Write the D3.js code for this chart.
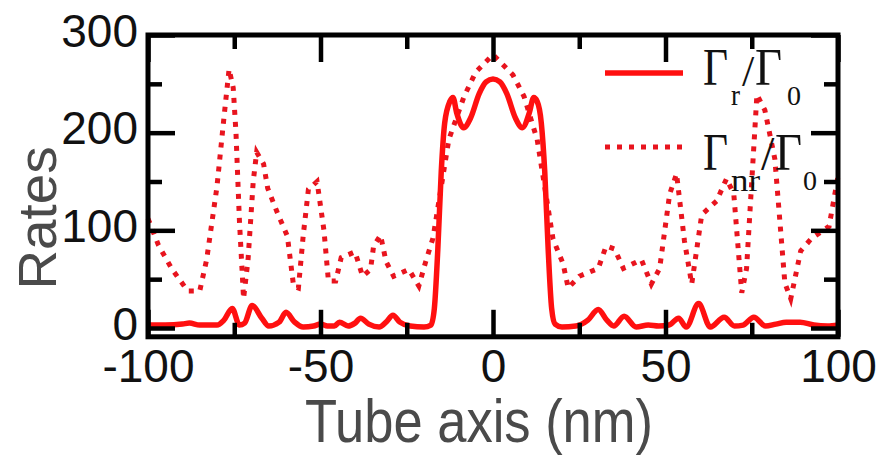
<!DOCTYPE html>
<html>
<head>
<meta charset="utf-8">
<script src="https://cdn.jsdelivr.net/npm/d3@7"></script>
<style>
  html, body { margin: 0; padding: 0; background: #fff; }
  svg { display: block; }
</style>
</head>
<body>
<svg id="chart" width="882" height="456"></svg>
<script>
// Tick positions along the tube axis (nm) and the rate axis
const xTicksMajor = [-100, -50, 0, 50, 100];
const xTicksMinor = [-75, -25, 25, 75];
const yTicksMajor = [0, 100, 200, 300];
const yTicksMinor = [50, 150, 250];

// Radiative rate Γr/Γ0 along the tube axis
const radPos = [-100, -95, -90, -88, -85, -80, -78, -75.6, -73.5, -72, -69.8, -67, -65, -62, -60, -57.5, -55,
  -52, -50, -48, -46, -44.5, -42, -40, -38.4, -36, -33, -31, -29, -27, -24, -20, -18, -17, -16, -15, -14,
  -12.5, -11.6, -10.5, -8.5, -6.5, -4, -2, 0, 2, 4, 6.5, 8.5, 10.5, 11.8, 12.8, 14, 15, 16, 17, 18, 20, 24,
  27.5, 30.5, 33, 35, 38, 41.5, 45, 48, 51, 53.8, 56, 59.6, 63, 67, 70, 72.5, 75.6, 79, 82, 85, 89, 93, 97, 100];
const radRate = [3, 3, 4, 5, 3, 3, 8, 20, 3, 5, 23, 10, 2, 6, 16, 6, 1,
  2, 4, 2, 2, 6, 2, 5, 10, 4, 1, 6, 13, 6, 2, 1, 3, 20, 80, 160, 210,
  232, 236, 220, 205, 215, 240, 252, 255, 252, 240, 215, 205, 220, 236, 232, 210, 160, 80, 20, 4, 1, 2,
  8, 19, 8, 2, 12, 1, 3, 2, 3, 10, 1, 25, 1, 11, 2, 3, 11, 2, 4, 6, 6, 3, 2, 3];

// Non-radiative rate Γnr/Γ0 along the tube axis
const nonradPos = [-100, -97, -93, -88.5, -85, -83, -80, -78, -76.5, -75.3, -74.5, -73.5, -72.3, -71, -69.5,
  -68.5, -66.5, -65.3, -62.5, -59.6, -57.8, -56.4, -55, -53.5, -51, -49, -47.7, -45.6, -44, -40, -37.8, -35.5,
  -34.6, -32.6, -31, -28.8, -24.4, -21.5, -19.5, -17.4, -12.8, -8.4, -5, 0, 5.8, 9, 12.8, 17.4, 20.3, 21.8,
  25, 30.5, 32.8, 35.2, 37.8, 43, 45.9, 48.3, 51.2, 53.2, 55.5, 57.6, 60.5, 64.8, 67.7, 69.8, 72.1, 73.5,
  76.5, 78.8, 81.7, 84.6, 86.3, 89.2, 92.4, 97.4, 100];
const nonradRate = [112, 85, 60, 38, 38, 70, 145, 215, 265, 246, 200, 110, 30, 70, 150,
  180, 168, 143, 118, 94, 43, 41, 95, 142, 150, 100, 48, 48, 72, 78, 53, 60,
  84, 95, 68, 53, 60, 43, 68, 92, 193, 237, 262, 280, 259, 237, 193, 91, 66, 41,
  53, 61, 84, 81, 61, 70, 45, 61, 137, 158, 89, 45, 116, 130, 153, 137, 36, 61,
  239, 223, 173, 46, 30, 79, 92, 104, 155];

const yFloor = -9;   // frame bottom sits a little below zero

const svg = d3.select("#chart");
const x = d3.scaleLinear().domain([-100, 100]).range([148, 838]);
const y = d3.scaleLinear().domain([0, 300]).range([328, 35]);

const sans = "'Liberation Sans', Arial, sans-serif";
const serif = "'Liberation Serif', 'Times New Roman', serif";
const red = "#ff1010";

// curves
const radLine = d3.line().x(d => x(d[0])).y(d => y(d[1])).curve(d3.curveMonotoneX);
const nonradLine = d3.line().x(d => x(d[0])).y(d => y(d[1])).curve(d3.curveLinear);

svg.append("path")
  .datum(nonradPos.map((p, i) => [p, nonradRate[i]]))
  .attr("d", nonradLine)
  .attr("fill", "none")
  .attr("stroke", "#e8141e")
  .attr("stroke-width", 5)
  .attr("stroke-dasharray", "5,7");

svg.append("path")
  .datum(radPos.map((p, i) => [p, radRate[i]]))
  .attr("d", radLine)
  .attr("fill", "none")
  .attr("stroke", red)
  .attr("stroke-width", 5.5)
  .attr("stroke-linejoin", "round");

// frame
svg.append("rect")
  .attr("x", x(-100)).attr("y", y(300))
  .attr("width", x(100) - x(-100)).attr("height", y(yFloor) - y(300))
  .attr("fill", "none").attr("stroke", "#000").attr("stroke-width", 5);

function tidy(g) {
  g.select(".domain").remove();
  g.selectAll(".tick line").attr("stroke", "#000").attr("stroke-width", 4.5);
  g.selectAll(".tick text")
    .attr("font-family", sans).attr("font-size", 46).attr("fill", "#111");
}
const fmt = d => String(d);

// bottom
svg.append("g").attr("transform", `translate(0,${y(yFloor)})`)
  .call(d3.axisBottom(x).tickValues(xTicksMajor).tickSize(-27).tickPadding(0).tickFormat(fmt))
  .call(tidy)
  .call(g => g.selectAll(".tick text").attr("dy", null).attr("y", 45));
svg.append("g").attr("transform", `translate(0,${y(yFloor)})`)
  .call(d3.axisBottom(x).tickValues(xTicksMinor).tickSize(-14).tickFormat(""))
  .call(tidy);
// top
svg.append("g").attr("transform", `translate(0,${y(300)})`)
  .call(d3.axisTop(x).tickValues(xTicksMajor).tickSize(-27).tickFormat(""))
  .call(tidy);
svg.append("g").attr("transform", `translate(0,${y(300)})`)
  .call(d3.axisTop(x).tickValues(xTicksMinor).tickSize(-14).tickFormat(""))
  .call(tidy);
// left
svg.append("g").attr("transform", `translate(${x(-100)},0)`)
  .call(d3.axisLeft(y).tickValues(yTicksMajor).tickSize(-27).tickPadding(10).tickFormat(fmt))
  .call(tidy)
  .call(g => g.selectAll(".tick text").attr("dy", "0.24em"));
svg.append("g").attr("transform", `translate(${x(-100)},0)`)
  .call(d3.axisLeft(y).tickValues(yTicksMinor).tickSize(-14).tickFormat(""))
  .call(tidy);
// right
svg.append("g").attr("transform", `translate(${x(100)},0)`)
  .call(d3.axisRight(y).tickValues(yTicksMajor).tickSize(-27).tickFormat(""))
  .call(tidy);
svg.append("g").attr("transform", `translate(${x(100)},0)`)
  .call(d3.axisRight(y).tickValues(yTicksMinor).tickSize(-14).tickFormat(""))
  .call(tidy);

// axis titles
svg.append("text")
  .attr("x", 479).attr("y", 442)
  .attr("text-anchor", "middle")
  .attr("font-family", sans).attr("font-size", 61).attr("fill", "#4a4a4a")
  .attr("textLength", 348).attr("lengthAdjust", "spacingAndGlyphs")
  .text("Tube axis (nm)");

svg.append("text")
  .attr("transform", "translate(56,218) rotate(-90)")
  .attr("text-anchor", "middle")
  .attr("font-family", sans).attr("font-size", 53).attr("fill", "#4a4a4a")
  .attr("textLength", 143).attr("lengthAdjust", "spacingAndGlyphs")
  .text("Rates");

// legend
const legend = svg.append("g");
legend.append("line")
  .attr("x1", 605).attr("x2", 683).attr("y1", 73).attr("y2", 73)
  .attr("stroke", red).attr("stroke-width", 5.5);
legend.append("line")
  .attr("x1", 605).attr("x2", 683).attr("y1", 147).attr("y2", 147)
  .attr("stroke", "#e8141e").attr("stroke-width", 5).attr("stroke-dasharray", "5,7");

function glyph(txt, gx, gy, size, len) {
  const t = legend.append("text")
    .attr("x", gx).attr("y", gy)
    .attr("font-family", serif).attr("font-size", size).attr("fill", "#111")
    .text(txt);
  if (len) t.attr("textLength", len).attr("lengthAdjust", "spacingAndGlyphs");
}
// Γr / Γ0
glyph("Γ", 703, 85, 52, 25);
glyph("r", 731, 105, 30, 9);
glyph("/", 742, 86, 44);
glyph("Γ", 755, 85, 52, 27);
glyph("0", 787, 105, 28);
// Γnr / Γ0
glyph("Γ", 703, 170, 52, 25);
glyph("nr", 731, 191, 32, 29);
glyph("/", 761, 170, 48);
glyph("Γ", 775, 170, 52, 27);
glyph("0", 803, 190, 28);
</script>
</body>
</html>
